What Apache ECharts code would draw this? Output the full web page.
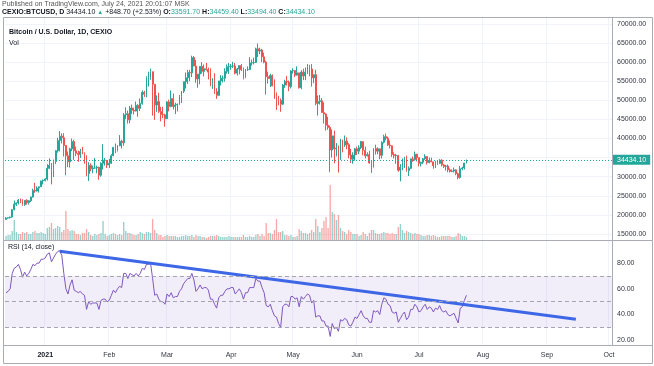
<!DOCTYPE html>
<html><head><meta charset="utf-8">
<script src="https://cdn.jsdelivr.net/npm/echarts@6/dist/echarts.min.js"></script>
<style>html,body{margin:0;padding:0;background:#fff}#c{width:654px;height:366px}</style>
</head><body><div id="c"></div>
<script>
// ---- data (daily, 2020-12-13 .. 2021-07-24) ----
const firstDay = '2020-12-13';
const axisDays = 294; // time axis runs to early October 2021
const opens = [
 18808,19175,19273,19427,21335,22800,23130,23850,23480,22720,23820,23250,23720,24690,26440,26260,27030,27370,28880,
 28990,29400,32200,33000,31990,33990,36820,39480,40630,40200,38200,35500,33900,37300,39200,36800,36100,35800,36600,36000,35500,30800,33000,32100,32300,32300,32500,30400,33500,34300,34300,
 33100,33500,35500,37700,36900,38100,39300,38900,46200,46500,44900,48000,47400,47200,48700,47900,49200,52100,51600,55900,56000,57500,54200,48800,49700,47100,46300,46200,
 45200,49600,48400,50500,48400,48800,48900,51000,52400,54900,55900,57300,57200,61200,59000,55600,56900,58900,57600,58300,58100,57400,54100,54300,52300,51300,55100,55800,55800,57600,58800,
 58900,59000,59000,57100,58200,59100,58000,56000,58100,58100,59800,59900,59900,63500,62900,63200,61400,60000,56200,55700,56500,53800,51700,51100,50000,49000,54000,55000,54800,53600,
 57700,57800,56600,57200,53300,57400,56400,57400,58800,58200,55900,56700,49200,49700,49900,46800,46400,43500,42900,37000,40700,37300,37500,34700,38800,38300,39300,38400,35700,34600,35700,
 37300,36700,37600,39200,36900,35500,35800,33600,33400,37400,36700,37300,35600,39000,40500,40100,38300,38100,35800,35500,35600,31700,32500,33700,34700,31600,32200,34700,34500,35900,
 35000,33500,33800,34700,35300,33700,34200,33900,32900,33800,33500,34300,33100,32700,32800,31800,31400,31500,31800,30800,29800,32100,32300,33591.7
];
const highs = [
 19411,19349,19566,21560,23770,23280,24170,24280,24100,23830,24100,23800,24780,26880,28400,27500,27380,28990,29300,
 29600,33300,34800,33600,34500,36900,40200,41950,41350,41400,38300,36600,37600,40000,39700,37900,36800,37300,37800,36400,35600,33800,33500,32900,34900,32900,32600,33800,38500,34900,34300,
 34700,35900,37700,38700,38300,40900,39700,46700,48200,47300,48500,48900,48100,49700,49000,50500,52600,52500,56300,57500,58300,57500,54200,51300,52000,48300,48300,46500,
 49800,50200,52600,51800,49400,49200,51400,52400,54900,57300,58000,58000,61700,61600,60600,56900,58900,60000,59400,59800,58600,58400,55800,57100,53200,55100,56600,56500,58400,59400,59800,
 59500,60100,59800,58500,59200,59500,58600,58200,58900,61300,60700,61200,63800,64900,63800,63500,62500,60400,57500,57000,56800,55500,52100,51200,50500,54300,55400,56400,55200,57900,
 58400,57900,58900,57200,57900,58300,58600,59500,59300,59500,56800,58000,51300,51400,50600,49500,46600,45700,43400,42400,42100,38800,38200,39900,39700,40800,40300,38800,37300,36400,37500,
 37900,38200,39400,39300,37900,36400,36800,34100,37500,38400,37700,37400,39300,41000,41300,40500,39500,38200,36400,36000,35700,33300,34800,35200,35500,32700,34700,35300,36600,36000,
 35000,33900,34900,35900,35300,35000,35000,33900,34100,34300,34600,34600,33300,33100,33200,32200,31900,32400,31900,31100,32800,32600,33600,34459.4
];
const lows = [
 18711,19000,19050,19290,21230,22340,22750,23070,22400,22350,22700,22700,23400,24500,25800,26100,25850,27330,27990,
 28800,29000,32000,28000,29900,33300,36300,36600,38700,35300,30400,32500,32400,36700,34400,35400,33900,34900,35900,33400,30100,28900,31400,30900,32100,30900,29200,30000,31900,32900,32300,
 32300,33400,35400,36200,36600,38000,37400,38100,45100,43900,44000,46400,46300,47100,45700,47200,48900,50900,50800,53600,55400,46000,44900,47000,46700,44500,45300,43100,
 45100,47100,48200,47600,46400,47100,48900,49300,51900,53100,54300,55000,56100,58900,54600,53300,54200,57000,56300,57800,55500,53700,53000,51700,50400,51300,53900,54700,54900,57000,56900,
 58000,58500,56800,56500,56800,57700,55500,55800,57700,57900,59100,59400,59800,61300,62100,60000,59700,51500,54400,53500,53700,50400,47500,48700,47000,48800,53300,53900,52400,53100,
 57000,56100,56500,53100,52900,55300,55300,56900,56300,53600,54500,48700,46000,48900,46700,43900,42100,42300,31200,35000,33500,35300,31100,34400,36400,37800,37200,34800,33600,33400,34200,
 35700,35900,37200,35600,34800,35300,33400,31000,32400,35800,35900,34600,34800,38700,39500,38100,37400,35200,34800,33400,31300,28800,31700,32300,31300,30200,32000,33900,34200,34000,
 32700,32700,33300,34400,33200,33500,33800,32100,32300,33100,33300,32700,32300,31600,31200,31100,31200,31100,30400,29300,29500,31700,31900,33494.4
];
const closes = [
 19175,19273,19427,21335,22800,23130,23850,23480,22720,23820,23250,23720,24690,26440,26260,27030,27370,28880,28990,
 29400,32200,33000,31990,33990,36820,39480,40630,40200,38200,35500,33900,37300,39200,36800,36100,35800,36600,36000,35500,30800,33000,32100,32300,32300,32500,30400,33500,34300,34300,33100,
 33500,35500,37700,36900,38100,39300,38900,46200,46500,44900,48000,47400,47200,48700,47900,49200,52100,51600,55900,56000,57500,54200,48800,49700,47100,46300,46200,45200,
 49600,48400,50500,48400,48800,48900,51000,52400,54900,55900,57300,57200,61200,59000,55600,56900,58900,57600,58300,58100,57400,54100,54300,52300,51300,55100,55800,55800,57600,58800,58900,
 59000,59000,57100,58200,59100,58000,56000,58100,58100,59800,59900,59900,63500,62900,63200,61400,60000,56200,55700,56500,53800,51700,51100,50000,49000,54000,55000,54800,53600,57700,
 57800,56600,57200,53300,57400,56400,57400,58800,58200,55900,56700,49200,49700,49900,46800,46400,43500,42900,37000,40700,37300,37500,34700,38800,38300,39300,38400,35700,34600,35700,37300,
 36700,37600,39200,36900,35500,35800,33600,33400,37400,36700,37300,35600,39000,40500,40100,38300,38100,35800,35500,35600,31700,32500,33700,34700,31600,32200,34700,34500,35900,35000,
 33500,33800,34700,35300,33700,34200,33900,32900,33800,33500,34300,33100,32700,32800,31800,31400,31500,31800,30800,29800,32100,32300,33585.4,34434.1
];
const volumes = [
 400,500,500,900,2000,800,600,600,800,700,800,600,600,800,900,700,700,800,700,
 600,1200,1300,1700,1100,1200,1400,1300,800,1000,2900,1100,900,1000,900,600,600,500,700,700,1100,800,500,400,600,500,600,700,1900,600,400,
 500,600,700,600,500,600,500,1800,900,700,700,600,500,500,600,800,700,600,800,800,700,2100,1000,700,500,500,300,400,
 500,400,400,400,400,300,300,400,400,500,400,400,500,300,500,400,400,300,300,200,300,400,400,400,500,400,300,300,300,300,400,
 300,300,300,300,300,300,500,300,300,400,300,300,500,600,400,600,400,1700,700,700,600,1000,2100,800,800,900,500,500,400,500,
 300,300,400,1100,900,700,700,600,700,1000,800,2100,1400,800,1200,1900,2300,1200,5500,2800,2600,2000,2500,1200,900,800,600,1000,800,600,600,
 600,400,500,800,600,400,700,1000,1000,700,600,600,700,800,700,700,600,700,600,600,1300,1600,1000,700,900,800,700,600,700,600,
 600,500,400,400,500,500,400,500,400,300,300,400,400,400,400,400,300,300,400,700,600,400,400,300
];
const rsiValues = [
 57,58,60,72,76,77,79,75,69,73,70,72,75,79,78,80,80,83,83,
 84,87,88,81,84,87,89,89.7,86,72,60,56,63,67,59,58,57,58,56,55,44,50,48,49,49,49,44,51,52,52,50,
 51,55,59,57,60,62,61,72,72,68,72,71,70,72,70,72,76,75,79,79,80,68,55,56,52,50,50,48,
 56,54,57,53,54,54,58,60,64,66,68,68,72,67,58,60,63,60,61,61,59,52,52,48,45,53,55,55,58,60,60,
 61,61,56,58,60,57,52,57,57,61,61,61,68,66,66,61,57,47,46,48,43,39,38,33,30,46,48,48,46,54,
 54,52,53,46,54,52,54,56,55,49,51,38,39,39,35,35,31,31,23,33,29,30,27,36,35,37,36,32,31,34,38,
 37,40,43,39,37,37,34,34,43,42,43,40,48,53,52,48,47,42,41,42,34,37,40,42,36,38,44,44,48,46,
 42,43,46,48,44,46,45,42,45,44,47,43,42,43,40,39,40,41,37,33.5,45,46,51,55
];
const trendStart = ['2021-01-08', 89.3];
const trendEnd = ['2021-09-15', 36.3];
const priceTicks = [15000, 70000, 5000];
const rsiBands = [30, 50, 70];
const monthNames = ['', 'Jan','Feb','Mar','Apr','May','Jun','Jul','Aug','Sep','Oct','Nov','Dec'];

// ---- categories ----
const categories = [];
{
  const d0 = new Date(firstDay + 'T00:00:00Z');
  for (let i = 0; i < axisDays; i++) {
    const d = new Date(d0.getTime() + i * 86400000);
    categories.push(d.toISOString().slice(0, 10));
  }
}
const candleData = opens.map((o, i) => [o, closes[i], lows[i], highs[i]]);
const volData = volumes.map((v, i) => ({
  value: v,
  itemStyle: { color: closes[i] >= opens[i] ? 'rgba(38,166,154,0.5)' : 'rgba(239,83,80,0.5)' }
}));
const n = closes.length;
const lastClose = closes[n - 1], prevClose = closes[n - 2];
const chg = lastClose - prevClose;
const f2 = v => v.toFixed(2);

const FONT = 'Liberation Sans, Arial, sans-serif';
const UP = '#26a69a', DOWN = '#ef5350';
const GRIDC = '#f0f3fa';
const L = 5, R = 42;
const rsiTop = 237.4, rsiH = 131.75;

const isMonthStart = (idx, val) => typeof val === 'string' && val.slice(8) === '01';

const chart = echarts.init(document.getElementById('c'), null, { renderer: 'canvas' });
chart.setOption({
  animation: false,
  backgroundColor: '#ffffff',
  textStyle: { fontFamily: FONT },
  grid: [
    { left: L, right: R, top: 24, height: 210 },
    { left: L, right: R, top: 180, height: 60 },
    { left: L, right: R, top: rsiTop, height: rsiH },
    { left: L, right: R, top: 17, height: 328 }
  ],
  xAxis: [
    { type: 'category', gridIndex: 0, data: categories, show: false },
    { type: 'category', gridIndex: 1, data: categories, show: false },
    { type: 'category', gridIndex: 2, data: categories, show: false },
    { type: 'category', gridIndex: 3, data: categories,
      axisLine: { show: false }, axisTick: { show: false },
      splitLine: { show: true, interval: isMonthStart, lineStyle: { color: GRIDC, width: 1 } },
      axisLabel: {
        interval: isMonthStart, margin: 7, fontSize: 7, color: '#333640', fontFamily: FONT,
        formatter: v => {
          const m = +v.slice(5, 7);
          return m === 1 ? '{y|' + v.slice(0, 4) + '}' : monthNames[m];
        },
        rich: { y: { fontWeight: 'bold', fontSize: 7, color: '#131722', fontFamily: FONT } }
      } }
  ],
  yAxis: [
    { type: 'value', gridIndex: 0, position: 'right', min: priceTicks[0], max: priceTicks[1], interval: priceTicks[2],
      axisLine: { show: false }, axisTick: { show: false },
      splitLine: { show: true, lineStyle: { color: GRIDC, width: 1 } },
      axisLabel: { margin: 5, fontSize: 7, color: '#333640', fontFamily: FONT, formatter: v => f2(v) } },
    { type: 'value', gridIndex: 1, min: 0, max: 6000, show: false },
    { type: 'value', gridIndex: 2, position: 'right', min: 0, max: 100, interval: 20,
      axisLine: { show: false }, axisTick: { show: false }, splitLine: { show: false },
      axisLabel: { margin: 5, fontSize: 7, color: '#333640', fontFamily: FONT,
        formatter: v => (v === 0 || v === 100) ? '' : f2(v) } },
    { type: 'value', gridIndex: 3, min: 0, max: 1, show: false }
  ],
  series: [
    { type: 'bar', name: 'Vol', xAxisIndex: 1, yAxisIndex: 1, data: volData, barWidth: '65%', z: 1 },
    { type: 'candlestick', name: 'BTCUSD', xAxisIndex: 0, yAxisIndex: 0, data: candleData, barWidth: '65%', z: 3,
      itemStyle: { color: UP, color0: DOWN, borderColor: UP, borderColor0: DOWN, borderWidth: 1 },
      markLine: {
        silent: true, symbol: 'none', animation: false,
        lineStyle: { color: UP, type: [1, 2], width: 1 },
        label: { show: true, position: 'end', distance: 1, formatter: () => f2(lastClose),
          backgroundColor: UP, color: '#fff', fontSize: 7, fontFamily: FONT, padding: [2, 4, 1, 4] },
        data: [{ yAxis: lastClose }]
      } },
    { type: 'line', name: 'RSI', xAxisIndex: 2, yAxisIndex: 2, data: rsiValues, showSymbol: false, z: 3,
      lineStyle: { color: '#7e57c2', width: 1 },
      markArea: { silent: true, itemStyle: { color: 'rgba(126,87,194,0.1)' },
        data: [[{ yAxis: rsiBands[0] }, { yAxis: rsiBands[2] }]] },
      markLine: { silent: true, symbol: 'none', animation: false,
        lineStyle: { color: '#a3a6b0', type: [4, 3], width: 1 }, label: { show: false },
        data: rsiBands.map(b => ({ yAxis: b })) } },
    { type: 'line', name: 'Trend', xAxisIndex: 2, yAxisIndex: 2, showSymbol: false, z: 4,
      lineStyle: { color: '#3d67e6', width: 3 },
      data: [[categories.indexOf(trendStart[0]), trendStart[1]], [categories.indexOf(trendEnd[0]), trendEnd[1]]] }
  ],
  graphic: [
    { type: 'rect', shape: { x: 3.5, y: 17.5, width: 649, height: 346 }, style: { fill: 'none', stroke: '#a9acb5', lineWidth: 1 }, z: 10, silent: true },
    { type: 'line', shape: { x1: 3.5, y1: 240.5, x2: 652.5, y2: 240.5 }, style: { stroke: '#a9acb5', lineWidth: 1 }, z: 10, silent: true },
    { type: 'line', shape: { x1: 3.5, y1: 345.5, x2: 652.5, y2: 345.5 }, style: { stroke: '#a9acb5', lineWidth: 1 }, z: 10, silent: true },
    { type: 'line', shape: { x1: 612.5, y1: 17.5, x2: 612.5, y2: 345.5 }, style: { stroke: '#a9acb5', lineWidth: 1 }, z: 10, silent: true },
    { type: 'text', left: 2, top: 1, z: 11, style: { text: 'Published on TradingView.com, July 24, 2021 20:01:07 MSK', fontSize: 7, fill: '#555', fontFamily: FONT } },
    { type: 'text', left: 2, top: 9, z: 11, style: {
        text: '{b|CEXIO:BTCUSD, D} {d|' + f2(lastClose) + '} {g|▲} {d|+' + f2(chg) + ' (+' + (chg / prevClose * 100).toFixed(2) + '%)} '
          + '{b|O:}{t|' + f2(opens[n-1]) + '} {b|H:}{t|' + f2(highs[n-1]) + '} {b|L:}{t|' + f2(lows[n-1]) + '} {b|C:}{t|' + f2(lastClose) + '}',
        fontSize: 7, fontFamily: FONT,
        rich: {
          b: { fontWeight: 'bold', fill: '#131722', fontSize: 7, fontFamily: FONT },
          d: { fill: '#131722', fontSize: 7, fontFamily: FONT },
          g: { fill: UP, fontSize: 6, fontFamily: FONT },
          t: { fill: UP, fontSize: 7, fontFamily: FONT }
        } } },
    { type: 'text', left: 9, top: 29, z: 11, style: { text: 'Bitcoin / U.S. Dollar, 1D, CEXIO', fontSize: 7, fontWeight: 'bold', fill: '#131722', fontFamily: FONT } },
    { type: 'text', left: 9, top: 40, z: 11, style: { text: 'Vol', fontSize: 7, fill: '#131722', fontFamily: FONT } },
    { type: 'text', left: 8, top: 244, z: 11, style: { text: 'RSI (14, close)', fontSize: 7, fill: '#131722', fontFamily: FONT, backgroundColor: 'rgba(255,255,255,0.8)' } }
  ]
});
</script></body></html>
